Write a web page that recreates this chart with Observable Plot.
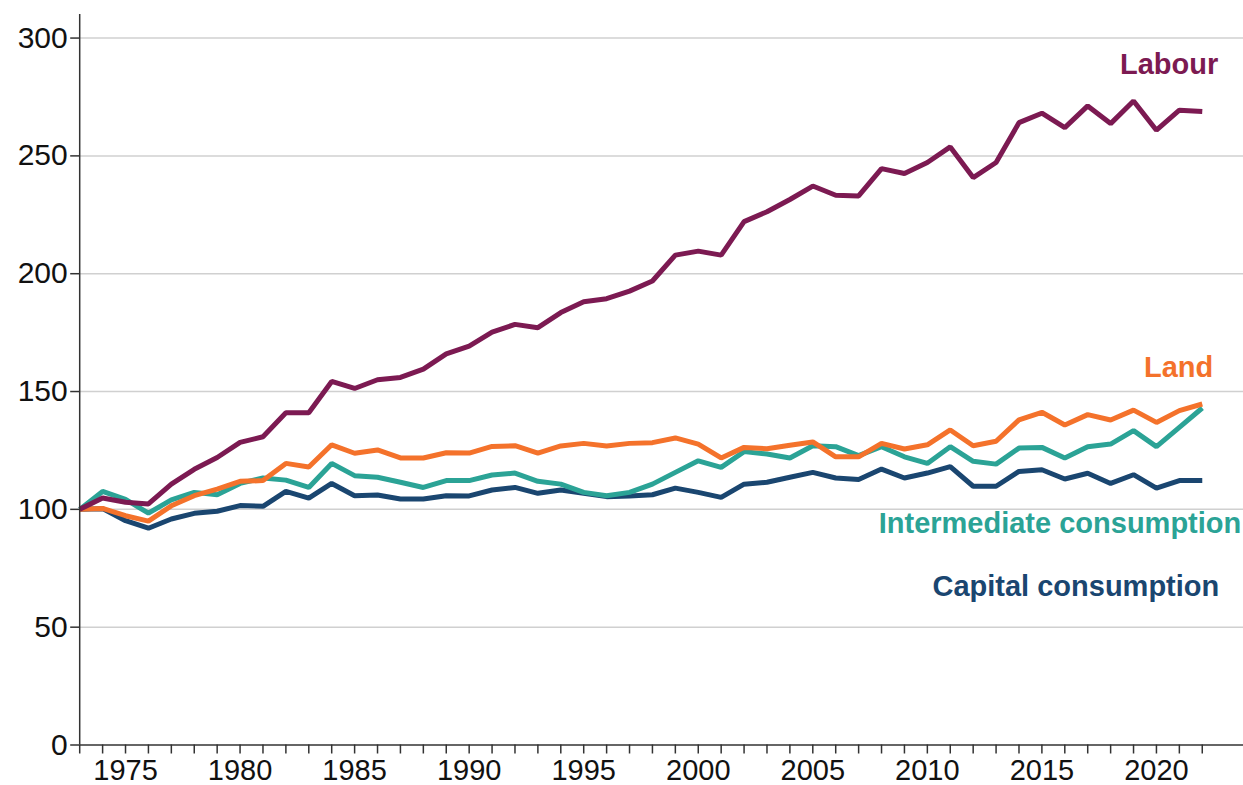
<!DOCTYPE html>
<html>
<head>
<meta charset="utf-8">
<script src="https://cdn.jsdelivr.net/npm/d3@7"></script>
<script src="https://cdn.jsdelivr.net/npm/@observablehq/plot@0.6"></script>
<style>
  html, body { margin: 0; padding: 0; background: #fff; }
  #chart svg { display: block; }
</style>
</head>
<body>
<div id="chart"></div>
<script>
const years = [1973,1974,1975,1976,1977,1978,1979,1980,1981,1982,
               1983,1984,1985,1986,1987,1988,1989,1990,1991,1992,
               1993,1994,1995,1996,1997,1998,1999,2000,2001,2002,
               2003,2004,2005,2006,2007,2008,2009,2010,2011,2012,
               2013,2014,2015,2016,2017,2018,2019,2020,2021,2022];

const labour = [100,104.8,103,102.3,110.7,117,122,128.4,130.8,141,
                141,154.3,151.3,155,156,159.5,166,169.3,175.2,178.5,
                177.1,183.5,188.1,189.4,192.6,196.9,207.9,209.6,207.9,222.1,
                226.3,231.5,237.2,233.3,233,244.6,242.5,247.2,253.8,240.8,
                247.2,264.1,268.1,262,271.2,263.7,273.3,260.9,269.4,268.8];

const land = [100,100.4,97.3,95,101.5,105.8,108.6,111.9,112.2,119.5,
              118,127.4,123.8,125.2,121.8,121.8,124,123.9,126.7,127,
              123.9,126.9,128,126.9,128,128.3,130.3,127.7,121.8,126.3,
              125.7,127.2,128.6,122.3,122.3,128,125.6,127.4,133.7,127,
              128.9,138,141.2,135.8,140.2,137.9,142.1,136.9,141.9,144.7];

const intermediate = [100,107.6,104.2,98.4,104,107.2,106.2,111,113.3,112.4,
                      109.3,119.5,114.3,113.6,111.5,109.3,112.2,112.2,114.6,115.4,
                      111.9,110.7,107.2,105.8,107.2,110.7,115.7,120.6,117.8,124.5,
                      123.5,121.8,127,126.6,122.8,126.6,122.3,119.5,126.6,120.4,
                      119.2,126,126.3,121.8,126.6,127.7,133.4,126.6,134.8,143];

const capital = [100,100.3,95.2,92,95.9,98.3,99.2,101.6,101.3,107.6,
                 104.8,111,105.8,106.1,104.4,104.4,105.8,105.7,108.2,109.3,
                 106.8,108.2,106.8,105.4,105.7,106.2,109,107.2,105.1,110.7,
                 111.5,113.6,115.7,113.3,112.7,117.1,113.3,115.4,118.1,109.8,
                 109.8,116.1,116.8,112.9,115.3,111,114.7,109,112.2,112.2];

const seriesNames = ["Capital consumption", "Intermediate consumption", "Land", "Labour"];
const seriesValues = [capital, intermediate, land, labour];
const yTicks = [0, 50, 100, 150, 200, 250, 300];

const colors = {
  "Capital consumption": "#1a4670",
  "Intermediate consumption": "#2ba396",
  "Land": "#f4722b",
  "Labour": "#7c1a52"
};

const rows = [];
seriesValues.forEach((vals, i) => {
  vals.forEach((v, j) => rows.push({series: seriesNames[i], year: years[j], value: v}));
});

// label placement relative to each series' last point (pixels)
const labelOffset = {
  "Labour": {dx: 16, dy: -47},
  "Land": {dx: 11, dy: -36},
  "Intermediate consumption": {dx: 39, dy: 116},
  "Capital consumption": {dx: 17, dy: 106}
};

const lineMarks = seriesNames.map(name =>
  Plot.line(rows.filter(d => d.series === name), {
    x: "year", y: "value",
    stroke: colors[name], strokeWidth: 5,
    strokeLinejoin: "miter", strokeLinecap: "butt"
  })
);

const labelMarks = seriesNames.map(name =>
  Plot.text(rows.filter(d => d.series === name), Plot.selectLast({
    x: "year", y: "value",
    text: () => name,
    fill: colors[name],
    fontWeight: "bold", fontSize: 29,
    textAnchor: "end",
    dx: labelOffset[name].dx, dy: labelOffset[name].dy
  }))
);

const chart = Plot.plot({
  width: 1243,
  height: 785,
  marginLeft: 79.2,
  marginRight: 0,
  marginTop: 14,
  marginBottom: 40.5,
  style: {fontFamily: "'Liberation Sans', Arial, sans-serif", fontSize: "30px", background: "#fff", color: "#111"},
  x: {type: "linear", domain: [1973, 2023.8]},
  y: {domain: [0, 310]},
  marks: [
    Plot.gridY(yTicks.filter(d => d > 0), {stroke: "#d0d0d0", strokeOpacity: 1, strokeWidth: 1.5}),
    Plot.axisY(yTicks, {tickSize: 9, tickPadding: 3, label: null, stroke: "#333", strokeWidth: 1.5}),
    Plot.axisX(years, {
      tickSize: 9, tickPadding: 5, label: null, stroke: "#333", strokeWidth: 1.5,
      fontSize: 29,
      tickFormat: d => (d % 5 === 0 ? String(d) : "")
    }),
    ...lineMarks,
    Plot.ruleY([0], {stroke: "#333", strokeWidth: 1.5}),
    Plot.ruleX([1973], {stroke: "#333", strokeWidth: 1.5}),
    ...labelMarks
  ]
});

document.getElementById("chart").appendChild(chart);
</script>
</body>
</html>
